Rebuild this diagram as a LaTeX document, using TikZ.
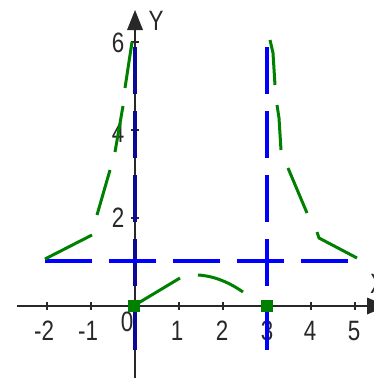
\documentclass[tikz,border=0pt]{standalone}
\usepackage{fontspec}
\setmainfont[FakeStretch=0.8]{Liberation Sans}
\definecolor{axisgray}{RGB}{40,40,40}
\definecolor{plotgreen}{RGB}{0,128,0}
\definecolor{asymblue}{RGB}{0,0,255}
\definecolor{asymnavy}{RGB}{10,10,150}
\tikzset{
  axisline/.style={draw=axisgray, line width=1.5pt},
  tickmark/.style={draw=axisgray, line width=1.5pt},
  asym/.style={draw=asymblue, line width=4pt, dash pattern=on 47pt off 17pt},
  curvepart/.style={draw=plotgreen, line width=3pt, line join=round},
  dotmark/.style={fill=plotgreen, draw=none},
  lbl/.style={font=\fontsize{28}{28}\selectfont, text=axisgray, inner sep=0pt}
}
\begin{document}
\begin{tikzpicture}[x=1pt,y=-1pt]
\useasboundingbox (0,0) rectangle (373,378);
% axes
\draw[axisline] (17,306) -- (368,306);
\fill[axisgray] (367,297.5) -- (387,306) -- (367,314.5) -- cycle;
\draw[axisline] (135,378) -- (135,29);
\fill[axisgray] (127,30) -- (135,10) -- (143,30) -- cycle;
% x ticks
\foreach \t in {47,91,179,223,267,311,355}
  \draw[tickmark] (\t,302) -- (\t,310);
% y ticks
\foreach \t in {218,130,42}
  \draw[tickmark] (131,\t) -- (139,\t);
% labels
\node[lbl] (xm2) at (44,331) {-2};
\node[lbl] (xm1) at (88,331) {-1};
\node[lbl] (x0) at (127,322) {0};
\node[lbl] (x1) at (177,331) {1};
\node[lbl] (x2) at (222,331) {2};
\node[lbl] (x3) at (267,331) {3};
\node[lbl] (x4) at (310,331) {4};
\node[lbl] (x5) at (354,331) {5};
\node[lbl] (y2) at (118,218) {2};
\node[lbl] (y4) at (118,133) {4};
\node[lbl] (y6) at (118,43) {6};
\node[lbl] (ylab) at (156,21) {Y};
\node[lbl, anchor=west] (xlab) at (370,284) {X};
% asymptotes
\draw[asym, draw=asymnavy] (135,47) -- (135,352);
\draw[asym] (267,47) -- (267,352);
\draw[asym] (45,261) -- (348,261);
% curve pieces
\draw[curvepart] (45,259) -- (92,235);
\draw[curvepart] (97,215) -- (110,170);
\draw[curvepart] (115,152) -- (123,106);
\draw[curvepart] (125,88) -- (132,42);
\draw[curvepart] (135,305) -- (180,278);
\draw[curvepart] (198,275) .. controls (215,276) and (230,283) .. (243,292);
\draw[curvepart] (270,40) -- (273,53) -- (275,85);
\draw[curvepart] (277,105) -- (279,118) -- (281,150);
\draw[curvepart] (288,168) -- (307,213);
\draw[curvepart] (317,232) -- (319,238) -- (357,258);
% points
\fill[dotmark] (128,300) rectangle (140,312);
\fill[dotmark] (261,300) rectangle (273,312);
\end{tikzpicture}
\end{document}
